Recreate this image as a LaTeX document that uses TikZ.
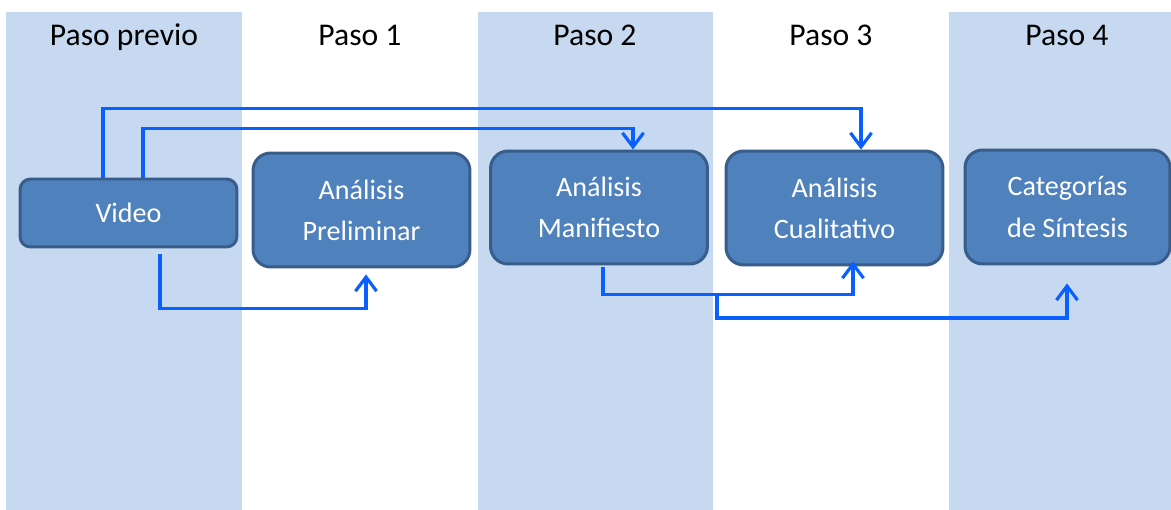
\documentclass[tikz,border=0pt]{standalone}
\usepackage{fontspec}
\setmainfont{Carlito}
\usetikzlibrary{calc, positioning, arrows.meta}
\definecolor{bandblue}{RGB}{198,217,241}
\definecolor{boxblue}{RGB}{79,129,189}
\definecolor{boxedge}{RGB}{56,93,138}
\definecolor{flowblue}{RGB}{10,95,255}

\begin{document}
\begin{tikzpicture}[x=0.02cm, y=-0.02cm,
    paso/.style={font=\fontsize{18}{22}\selectfont, anchor=base},
    box/.style={draw=boxedge, fill=boxblue, line width=1.7pt, rounded corners=10pt,
      text=white, align=center, font=\fontsize{16}{23.5}\selectfont,
      minimum width=4.34cm, minimum height=2.28cm},
    flow/.style={draw=flowblue, line width=1.8pt, -{Straight Barb[length=8pt,width=12pt]}}]
  \useasboundingbox (0,0) rectangle (1171,510);
  % Columns
  \fill[bandblue] (6,12) rectangle (242,510);
  \fill[bandblue] (478,12) rectangle (713,510);
  \fill[bandblue] (949,12) rectangle (1171,510);
  \node[paso] (p0) at (124,46) {Paso previo};
  \node[paso] (p1) at (360,46) {Paso 1};
  \node[paso] (p2) at (595,46) {Paso 2};
  \node[paso] (p3) at (831,46) {Paso 3};
  \node[paso] (p4) at (1067,46) {Paso 4};
  % Boxes
  \node[box, rounded corners=6pt, minimum height=1.36cm] (video) at (128.5,213) {Video};
  \node[box] (prelim) at (361.5,210) {Análisis\\Preliminar};
  \node[box, minimum height=2.26cm] (manif) at (599,207.5) {Análisis\\Manifiesto};
  \node[box] (cuali) at (834.5,208) {Análisis\\Cualitativo};
  \node[box, minimum width=4.1cm] (sintesis) at (1067.5,207) {Categorías\\de Síntesis};
  % Arrows from the video
  \draw[flow] ($(video.north)+(-25.5,0)$) -- ++(0,-69) -| ($(cuali.north)+(26.5,0)$);
  \draw[flow] ($(video.north)+(14.5,0)$) -- ++(0,-49) -| ($(manif.north)+(34,0)$);
  \draw[flow] ($(video.south)+(31.5,6)$) -- ++(0,54) -| ($(prelim.south)+(4.5,6)$);
  % Arrows from the manifest analysis
  \draw[flow] ($(manif.south)+(4,2)$) -- ++(0,27) -| ($(cuali.south)+(18.5,-5)$);
  \coordinate (split) at (717,293);
  \draw[flow] (split) -- ++(0,25) -| ($(sintesis.south)+(-0.5,18)$);
\end{tikzpicture}
\end{document}
